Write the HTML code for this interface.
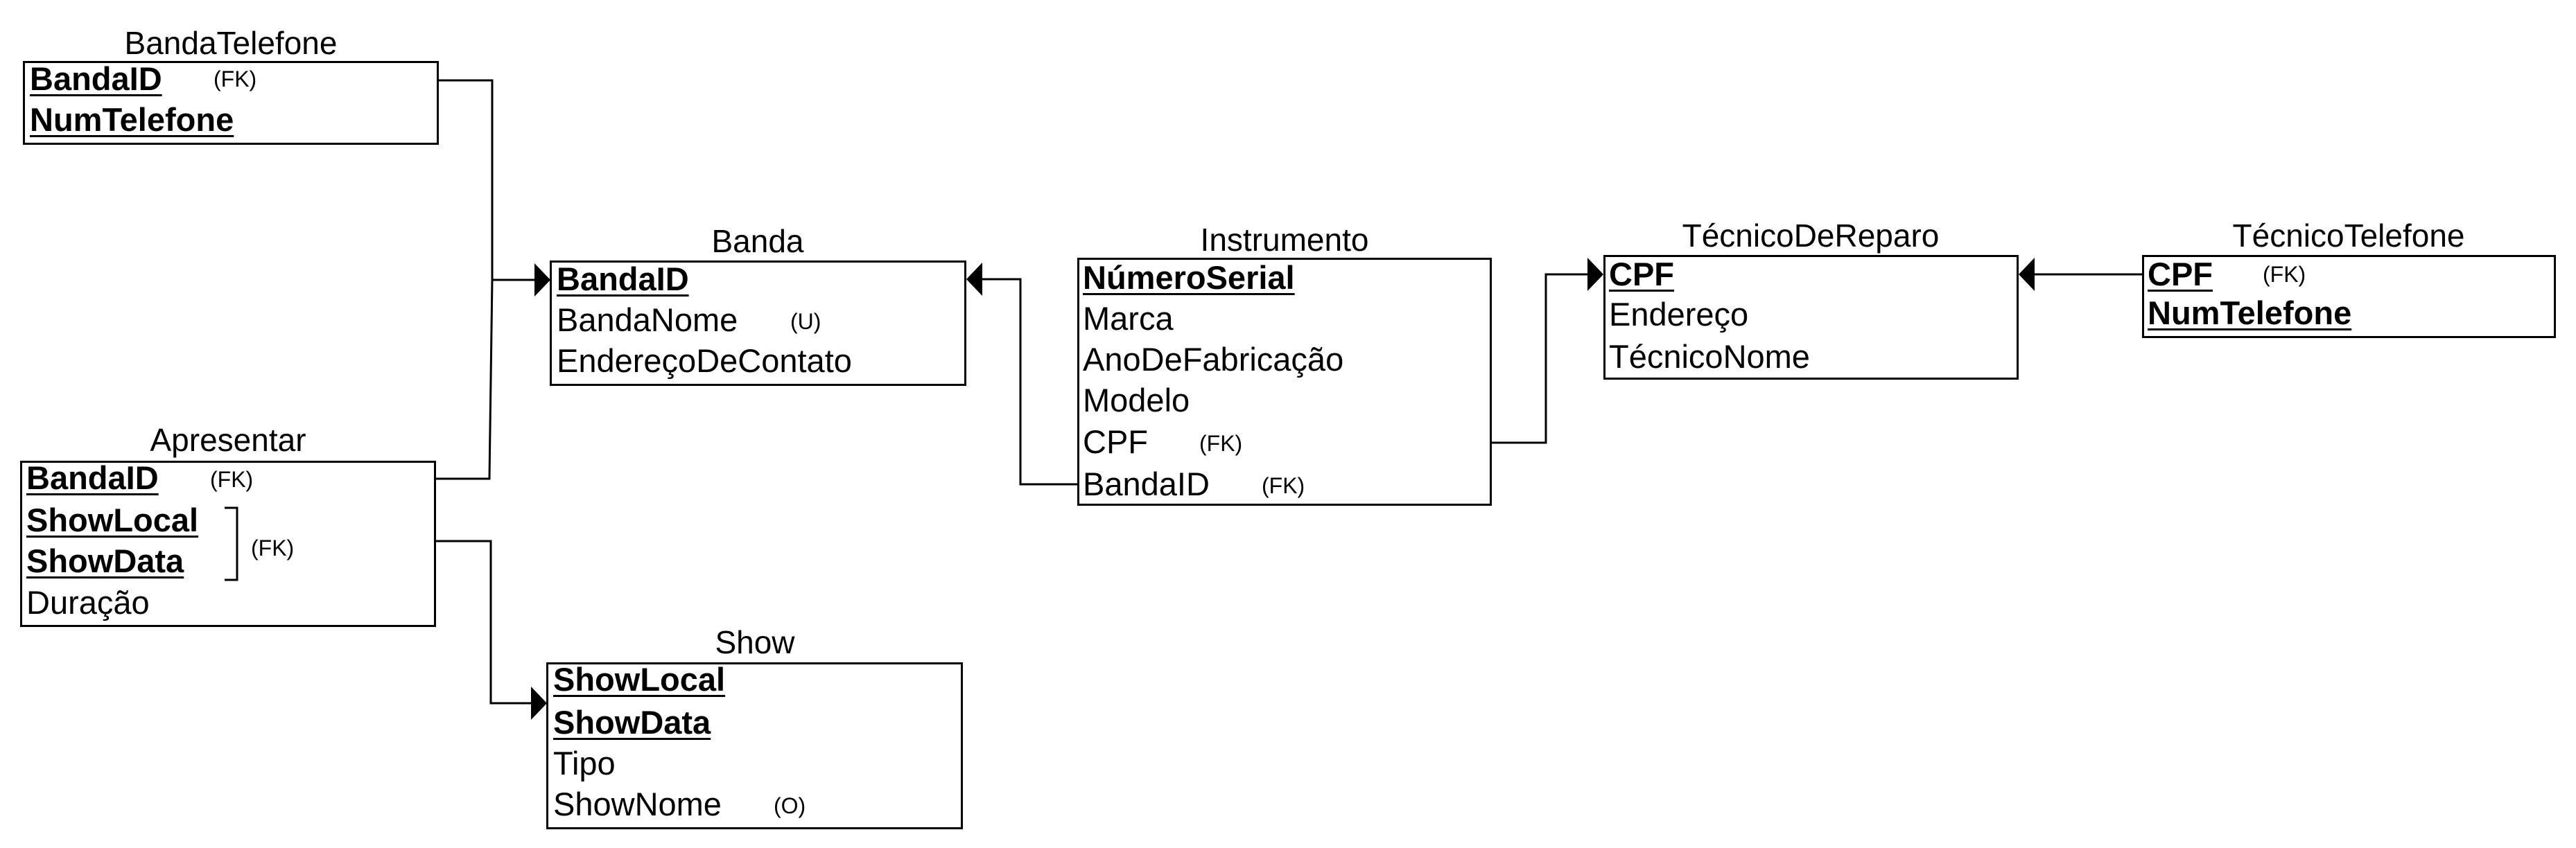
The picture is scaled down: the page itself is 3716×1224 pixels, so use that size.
<!DOCTYPE html>
<html><head><meta charset="utf-8"><style>
html,body{margin:0;padding:0;background:#fff;}
body{width:3716px;height:1224px;position:relative;overflow:hidden;font-family:"Liberation Sans",Arial,sans-serif;color:#000;}
.b{position:absolute;border:3px solid #000;box-sizing:border-box;background:transparent;}
.t{position:absolute;font-size:47px;line-height:56px;white-space:nowrap;}
.k{font-weight:bold;text-decoration:underline;text-decoration-thickness:3px;text-underline-offset:6px;}
.s{position:absolute;font-size:32px;line-height:56px;white-space:nowrap;}
.h{position:absolute;font-size:46px;line-height:56px;white-space:nowrap;transform:translateX(-50%);}
</style></head><body>
<svg width="3716" height="1224" style="position:absolute;left:0;top:0">
<g stroke="#000" stroke-width="3" fill="none">
<polyline points="633,116 710,116 710,404 706,691 629,691"/>
<line x1="710" y1="404" x2="780" y2="404"/>
<polyline points="629,781 708,781 708,1015 776,1015"/>
<polyline points="1554,699 1472,699 1472,403 1408,403"/>
<polyline points="2152,639 2230,639 2230,396 2300,396"/>
<line x1="3090" y1="396" x2="2926" y2="396"/>
<polyline points="324,733 342,733 342,837 324,837"/>
</g>
<g fill="#000">
<polygon points="771,380 794,404 771,428"/>
<polygon points="766,991 789,1015 766,1039"/>
<polygon points="1417,379 1394,403 1417,427"/>
<polygon points="2290,372 2313,396 2290,420"/>
<polygon points="2935,372 2912,396 2935,420"/>
</g>
</svg>

<div class="h" style="left:333px;top:34px">BandaTelefone</div>
<div class="b" style="left:33px;top:88px;width:600px;height:121px"></div>
<div class="t k" style="left:43px;top:86px">BandaID</div>
<div class="s" style="left:308px;top:86px">(FK)</div>
<div class="t k" style="left:43px;top:145px">NumTelefone</div>

<div class="h" style="left:1093px;top:320px">Banda</div>
<div class="b" style="left:793px;top:376px;width:601px;height:181px"></div>
<div class="t k" style="left:803px;top:375px">BandaID</div>
<div class="t" style="left:803px;top:434px">BandaNome</div>
<div class="s" style="left:1140px;top:436px">(U)</div>
<div class="t" style="left:803px;top:493px">EndereçoDeContato</div>

<div class="h" style="left:329px;top:607px">Apresentar</div>
<div class="b" style="left:29px;top:665px;width:600px;height:240px"></div>
<div class="t k" style="left:38px;top:662px">BandaID</div>
<div class="s" style="left:303px;top:664px">(FK)</div>
<div class="t k" style="left:38px;top:723px">ShowLocal</div>
<div class="t k" style="left:38px;top:782px">ShowData</div>
<div class="s" style="left:362px;top:763px">(FK)</div>
<div class="t" style="left:38px;top:842px">Duração</div>

<div class="h" style="left:1089px;top:899px">Show</div>
<div class="b" style="left:788px;top:956px;width:601px;height:241px"></div>
<div class="t k" style="left:798px;top:953px">ShowLocal</div>
<div class="t k" style="left:798px;top:1015px">ShowData</div>
<div class="t" style="left:798px;top:1074px">Tipo</div>
<div class="t" style="left:798px;top:1133px">ShowNome</div>
<div class="s" style="left:1116px;top:1135px">(O)</div>

<div class="h" style="left:1853px;top:318px">Instrumento</div>
<div class="b" style="left:1554px;top:372px;width:598px;height:358px"></div>
<div class="t k" style="left:1562px;top:373px">NúmeroSerial</div>
<div class="t" style="left:1562px;top:432px">Marca</div>
<div class="t" style="left:1562px;top:491px">AnoDeFabricação</div>
<div class="t" style="left:1562px;top:550px">Modelo</div>
<div class="t" style="left:1562px;top:610px">CPF</div>
<div class="s" style="left:1730px;top:612px">(FK)</div>
<div class="t" style="left:1562px;top:671px">BandaID</div>
<div class="s" style="left:1820px;top:673px">(FK)</div>

<div class="h" style="left:2612px;top:312px">TécnicoDeReparo</div>
<div class="b" style="left:2313px;top:368px;width:599px;height:180px"></div>
<div class="t k" style="left:2321px;top:368px">CPF</div>
<div class="t" style="left:2321px;top:426px">Endereço</div>
<div class="t" style="left:2321px;top:487px">TécnicoNome</div>

<div class="h" style="left:3388px;top:312px">TécnicoTelefone</div>
<div class="b" style="left:3090px;top:368px;width:597px;height:120px"></div>
<div class="t k" style="left:3098px;top:368px">CPF</div>
<div class="s" style="left:3264px;top:368px">(FK)</div>
<div class="t k" style="left:3098px;top:424px">NumTelefone</div>
</body></html>
